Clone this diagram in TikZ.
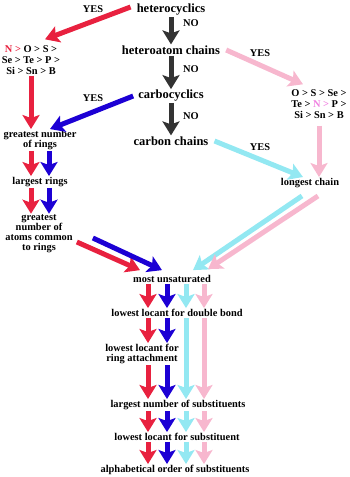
\documentclass[tikz,border=0pt]{standalone}
\usepackage{fontspec}
\setmainfont{Liberation Serif}
\usetikzlibrary{arrows.meta,positioning}
\definecolor{ringred}{HTML}{E8213F}
\definecolor{ringblue}{HTML}{1C00D4}
\definecolor{chaincyan}{HTML}{93E8F2}
\definecolor{chainpink}{HTML}{F7B7CE}
\definecolor{nopath}{HTML}{333333}
\definecolor{npink}{HTML}{F07FE0}

\begin{document}
\begin{tikzpicture}[x=1pt, y=-1pt,
  branch/.style={inner sep=1pt, font=\fontsize{12.5}{13}\selectfont\bfseries},
  crit/.style={inner sep=1pt, align=center, font=\fontsize{10.4}{10}\selectfont\bfseries},
  order/.style={inner sep=1pt, align=center, font=\fontsize{10.4}{11}\selectfont\bfseries},
  answer/.style={inner sep=1pt, font=\fontsize{10.4}{11}\selectfont\bfseries},
  flow/.style={line width=5pt, -{Stealth[length=14pt, width=17pt, inset=3pt]}},
]
  \useasboundingbox (0,0) rectangle (350,477);

  \node[branch] (hetero) at (171,10) {heterocyclics};
  \node[branch] (hchain) at (171,50) {heteroatom chains};
  \node[branch] (ccyc) at (171,96) {carbocyclics};
  \node[branch] (cchain) at (171,141) {carbon chains};
  \node[order] (lhet) at (31,60) {{\color{ringred}N >} O > S >\\Se > Te > P >\\Si > Sn > B};
  \node[order] (rhet) at (319,104) {O > S > Se >\\Te > {\color{npink}N >} P >\\Si > Sn > B};
  \node[crit] (rings) at (40,140) {greatest number\\of rings};
  \node[crit] (largest) at (40,182) {largest rings};
  \node[crit] (common) at (39,234) {greatest\\number of\\atoms common\\to rings};
  \node[crit] (longest) at (310,183) {longest chain};
  \node[crit] (unsat) at (172,279) {most unsaturated};
  \node[crit] (dbl) at (177,313) {lowest locant for double bond};
  \node[crit] (ringatt) at (142,354) {lowest locant for\\ring attachment};
  \node[crit] (nsub) at (178,405) {largest number of substituents};
  \node[crit] (locsub) at (177,437) {lowest locant for substituent};
  \node[crit] (alpha) at (175,470) {alphabetical order of substituents};

  \node[answer] (yes1) at (93,9) {YES};
  \node[answer] (yes2) at (93,98) {YES};
  \node[answer] (yes3) at (260,53) {YES};
  \node[answer] (yes4) at (260,147) {YES};
  \node[answer] (no1) at (191,23) {NO};
  \node[answer] (no2) at (191,69) {NO};
  \node[answer] (no3) at (191,116) {NO};

  \coordinate (laneR) at (148,0);
  \coordinate (laneB) at (167,0);
  \coordinate (laneC) at (186,0);
  \coordinate (laneP) at (204,0);

  \draw[flow, nopath] (hetero) -- (hchain);
  \draw[flow, nopath] (hchain) -- (ccyc);
  \draw[flow, nopath] (ccyc) -- (cchain);

  \draw[flow, ringred] ([xshift=-5pt,yshift=3pt]hetero.west) -- ([xshift=14pt,yshift=5pt]lhet.north);
  \draw[flow, ringred] (lhet.south) -- (lhet.south |- rings.north);
  \draw[flow, ringblue] ([xshift=-4pt]ccyc.west) -- ([xshift=10pt]rings.north);
  \draw[flow, chainpink] ([xshift=5pt]hchain.east) -- ([xshift=-16pt,yshift=4pt]rhet.north);
  \draw[flow, chainpink] ([yshift=-6pt]rhet.south) -- (rhet.south |- longest.north);
  \draw[flow, chaincyan] ([xshift=5pt]cchain.east) -- ([xshift=-7pt]longest.north);

  \draw[flow, ringred] ([xshift=-9pt]rings.south) -- ([xshift=-9pt]largest.north);
  \draw[flow, ringblue] ([xshift=9pt]rings.south) -- ([xshift=9pt]largest.north);
  \draw[flow, ringred] ([xshift=-9pt]largest.south) -- ([xshift=-9pt]largest.south |- common.north);
  \draw[flow, ringblue] ([xshift=9pt]largest.south) -- ([xshift=9pt]largest.south |- common.north);

  \draw[flow, ringred] ([xshift=3pt,yshift=-8pt]common.east) -- ([xshift=-32pt,yshift=4pt]unsat.north);
  \draw[flow, ringblue] ([xshift=19pt,yshift=-4pt]common.east) -- ([xshift=-10pt,yshift=4pt]unsat.north);
  \draw[flow, chaincyan] ([xshift=-8pt,yshift=-7pt]longest.south) -- ([xshift=21pt,yshift=4pt]unsat.north);
  \draw[flow, chainpink] ([xshift=8pt,yshift=-7pt]longest.south) -- ([xshift=36pt,yshift=5pt]unsat.north);

  \draw[flow, ringred] (unsat.south -| laneR) -- (dbl.north -| laneR);
  \draw[flow, ringblue] (unsat.south -| laneB) -- (dbl.north -| laneB);
  \draw[flow, chaincyan] (unsat.south -| laneC) -- (dbl.north -| laneC);
  \draw[flow, chainpink] (unsat.south -| laneP) -- (dbl.north -| laneP);

  \draw[flow, ringred] (dbl.south -| laneR) -- (ringatt.north -| laneR);
  \draw[flow, ringblue] (dbl.south -| laneB) -- (ringatt.north -| laneB);
  \draw[flow, ringred] (ringatt.south -| laneR) -- (nsub.north -| laneR);
  \draw[flow, ringblue] (ringatt.south -| laneB) -- (nsub.north -| laneB);
  \draw[flow, chaincyan] (dbl.south -| laneC) -- (nsub.north -| laneC);
  \draw[flow, chainpink] (dbl.south -| laneP) -- (nsub.north -| laneP);

  \draw[flow, ringred] (nsub.south -| laneR) -- (locsub.north -| laneR);
  \draw[flow, ringblue] (nsub.south -| laneB) -- (locsub.north -| laneB);
  \draw[flow, chaincyan] (nsub.south -| laneC) -- (locsub.north -| laneC);
  \draw[flow, chainpink] (nsub.south -| laneP) -- (locsub.north -| laneP);

  \draw[flow, ringred] (locsub.south -| laneR) -- (alpha.north -| laneR);
  \draw[flow, ringblue] (locsub.south -| laneB) -- (alpha.north -| laneB);
  \draw[flow, chaincyan] (locsub.south -| laneC) -- (alpha.north -| laneC);
  \draw[flow, chainpink] (locsub.south -| laneP) -- (alpha.north -| laneP);
\end{tikzpicture}
\end{document}
